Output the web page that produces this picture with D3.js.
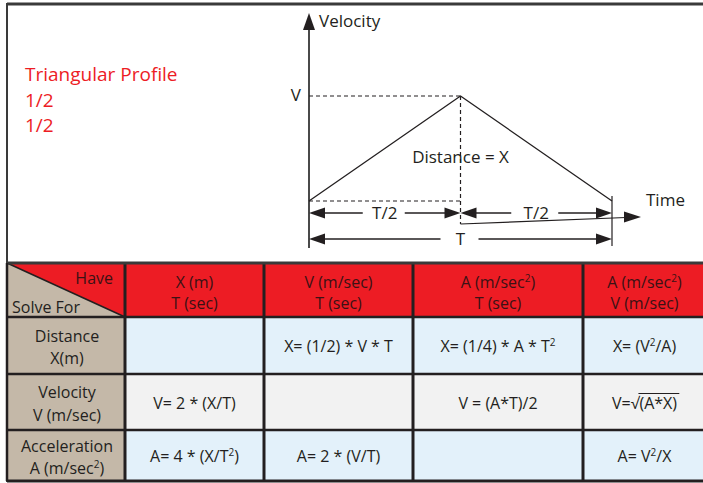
<!DOCTYPE html>
<html><head><meta charset="utf-8">
<script src="https://cdn.jsdelivr.net/npm/d3@7"></script>
<style>
html,body{margin:0;padding:0;background:#fff;}
svg{display:block;font-family:"Open Sans",sans-serif;}
</style></head>
<body>
<svg id="chart" width="703" height="483"></svg>
<script>
// ---------- data ----------
const titleLines = ["Triangular Profile", "1/2", "1/2"];
const profileTime = [0, 0.5, 1];      // fraction of T
const profileVelocity = [0, 1, 0];    // fraction of V
const axisLabels = ["Velocity", "Time", "V", "Distance = X"];
const spanLabels = ["T/2", "T/2", "T"];
const haveTop = ["X (m)", "V (m/sec)", "A (m/sec^2)", "A (m/sec^2)"];
const haveBottom = ["T (sec)", "T (sec)", "T (sec)", "V (m/sec)"];
const solveFor = ["Distance", "Velocity", "Acceleration"];
const solveUnits = ["X(m)", "V (m/sec)", "A (m/sec^2)"];
const formulas = [
  ["", "X= (1/2) * V * T", "X= (1/4) * A * T^2", "X= (V^2/A)"],
  ["V= 2 * (X/T)", "", "V = (A*T)/2", "V=\u221A{(A*X)}"],
  ["A= 4 * (X/T^2)", "A= 2 * (V/T)", "", "A= V^2/X"]
];

// ---------- layout ----------
const svg = d3.select("#chart");
const ink = "#231f20";
const red = "#ed1c24";
const tan = "#c4b8a8";
const rowFill = ["#e3f1fa", "#f2f2f2", "#e3f1fa"];

// frame
svg.append("line").attr("x1",7).attr("x2",703).attr("y1",4).attr("y2",4).attr("stroke","#3a3a3a").attr("stroke-width",3);
svg.append("line").attr("x1",7).attr("x2",7).attr("y1",3).attr("y2",482).attr("stroke","#3a3a3a").attr("stroke-width",2);

// title
svg.append("g").selectAll("text").data(titleLines).join("text")
  .attr("x",25).attr("y",(d,i)=>81+i*25.5)
  .attr("fill",red).attr("font-size",19).text(d=>d);

// ---------- profile chart ----------
const x = d3.scaleLinear().domain([0,1]).range([309,612]);
const y = d3.scaleLinear().domain([0,1]).range([201,96]);
const g = svg.append("g");

function arrowHead(px, py, dir, len=16, hw=5.5){
  let pts;
  if(dir==='r') pts=[[px,py],[px-len,py-hw],[px-len,py+hw]];
  else if(dir==='l') pts=[[px,py],[px+len,py-hw],[px+len,py+hw]];
  else pts=[[px,py],[px-hw,py+len],[px+hw,py+len]];
  g.append("path").attr("d","M"+pts.map(p=>p.join(",")).join("L")+"Z").attr("fill",ink);
}

// axis
g.append("line").attr("x1",x(0)).attr("x2",x(0)).attr("y1",26).attr("y2",248).attr("stroke","#4a4a4a").attr("stroke-width",2);
arrowHead(x(0),13,'u',17,6);

// dashed guides
function dline(x1,y1,x2,y2){
  g.append("line").attr("x1",x1).attr("y1",y1).attr("x2",x2).attr("y2",y2)
   .attr("stroke",ink).attr("stroke-width",1.2).attr("stroke-dasharray","4,3");
}
dline(x(0), y(1), x(0.5), y(1));
dline(x(0), y(0), x(0.5), y(0));
dline(x(0.5), y(1), x(0.5), 224);

// profile line
const line = d3.line().x((d,i)=>x(profileTime[i])).y(d=>y(d));
g.append("path").attr("d", line(profileVelocity)).attr("fill","none").attr("stroke",ink).attr("stroke-width",1.3);

// right end marker
g.append("line").attr("x1",x(1)).attr("x2",x(1)).attr("y1",196).attr("y2",246).attr("stroke",ink).attr("stroke-width",1.2);

// time arrow
g.append("line").attr("x1",x(0.5)).attr("y1",224).attr("x2",626).attr("y2",217.5).attr("stroke",ink).attr("stroke-width",1.2);
arrowHead(641,217,'r',17,5.5);

// span arrows
function span(a, b, yy, label, gapL, gapR){
  const xa=x(a), xb=x(b);
  arrowHead(xa,yy,'l'); arrowHead(xb,yy,'r');
  const cx=(xa+xb)/2;
  g.append("line").attr("x1",xa+10).attr("x2",cx-gapL).attr("y1",yy).attr("y2",yy).attr("stroke",ink).attr("stroke-width",1.3);
  g.append("line").attr("x1",cx+gapR).attr("x2",xb-10).attr("y1",yy).attr("y2",yy).attr("stroke",ink).attr("stroke-width",1.3);
  g.append("text").attr("x",cx).attr("y",yy+6).attr("text-anchor","middle").attr("font-size",17).attr("fill",ink).text(label);
}
span(0,0.5,213,spanLabels[0],22,20);
span(0.5,1,213,spanLabels[1],25,22);
span(0,1,239,spanLabels[2],20,18);

// axis labels
g.append("text").attr("x",319).attr("y",27).attr("font-size",17).attr("fill",ink).text(axisLabels[0]);
g.append("text").attr("x",646).attr("y",206).attr("font-size",17).attr("fill",ink).text(axisLabels[1]);
g.append("text").attr("x",301).attr("y",y(1)+5).attr("text-anchor","end").attr("font-size",17).attr("fill",ink).text(axisLabels[2]);
g.append("text").attr("x",x(0.5)).attr("y",163).attr("text-anchor","middle").attr("font-size",17).attr("fill",ink).text(axisLabels[3]);

// ---------- table ----------
const colEdges = [7,125,264,413,583,712];
const rowEdges = [263,317,374,430,481];
const t = svg.append("g").attr("font-size",16);

function rich(sel, str){
  // supports ^2 superscripts and {..} overline groups
  const parts = str.split(/(\^\w|\{[^}]*\})/).filter(s=>s.length);
  const over = [];
  let pendingDy = 0;
  parts.forEach(p=>{
    let ts;
    if(p[0]==='^'){
      ts = sel.append("tspan").attr("dy",-6 + pendingDy).attr("font-size",10).text(p.slice(1));
      pendingDy = 6;
      return;
    } else if(p[0]==='{'){
      ts = sel.append("tspan").text(p.slice(1,-1));
      over.push(ts);
    } else ts = sel.append("tspan").text(p);
    if(pendingDy){ ts.attr("dy",pendingDy); pendingDy=0; }
  });
  return over;
}

// header background
t.append("rect").attr("x",colEdges[0]).attr("y",rowEdges[0]).attr("width",colEdges[5]-colEdges[0]).attr("height",rowEdges[1]-rowEdges[0]).attr("fill",red);
// corner diagonal triangle (tan)
t.append("path").attr("d",`M${colEdges[0]},${rowEdges[0]}L${colEdges[1]},${rowEdges[1]}L${colEdges[0]},${rowEdges[1]}Z`).attr("fill",tan);
t.append("line").attr("x1",colEdges[0]).attr("y1",rowEdges[0]).attr("x2",colEdges[1]).attr("y2",rowEdges[1]).attr("stroke",ink).attr("stroke-width",1.5);
// first column body
t.append("rect").attr("x",colEdges[0]).attr("y",rowEdges[1]).attr("width",colEdges[1]-colEdges[0]).attr("height",rowEdges[4]-rowEdges[1]).attr("fill",tan);
// body cells
formulas.forEach((row,r)=>{
  row.forEach((f,c)=>{
    t.append("rect").attr("x",colEdges[c+1]).attr("y",rowEdges[r+1]).attr("width",colEdges[c+2]-colEdges[c+1]).attr("height",rowEdges[r+2]-rowEdges[r+1]).attr("fill",rowFill[r]);
  });
});

const hdrInk = "#3b1215";
t.append("text").attr("x",113).attr("y",284).attr("text-anchor","end").attr("fill",hdrInk).text("Have");
t.append("text").attr("x",12).attr("y",313).attr("fill",ink).text("Solve For");

haveTop.forEach((h,c)=>{
  const cx = (colEdges[c+1]+colEdges[c+2])/2 - (c===3?3:0);
  rich(t.append("text").attr("x",cx).attr("y",288).attr("text-anchor","middle").attr("fill",hdrInk), h);
  rich(t.append("text").attr("x",cx).attr("y",309).attr("text-anchor","middle").attr("fill",hdrInk), haveBottom[c]);
});

solveFor.forEach((s,r)=>{
  const cy=(rowEdges[r+1]+rowEdges[r+2])/2;
  const cx=(colEdges[0]+colEdges[1])/2+1;
  t.append("text").attr("x",cx).attr("y",cy-4).attr("text-anchor","middle").attr("fill",ink).text(s);
  rich(t.append("text").attr("x",cx).attr("y",cy+18.5).attr("text-anchor","middle").attr("fill",ink), solveUnits[r]);
});

formulas.forEach((row,r)=>{
  const cy=(rowEdges[r+1]+rowEdges[r+2])/2;
  row.forEach((f,c)=>{
    if(!f) return;
    const cx=(colEdges[c+1]+colEdges[c+2])/2 - (c===3?3:0);
    const txt=t.append("text").attr("x",cx).attr("y",cy+6.5).attr("text-anchor","middle").attr("fill",ink);
    const over=rich(txt,f);
    over.forEach(ts=>{
      const bb=ts.node().getBBox();
      t.append("line").attr("x1",bb.x-1).attr("x2",bb.x+bb.width+2).attr("y1",bb.y+2).attr("y2",bb.y+2).attr("stroke",ink).attr("stroke-width",1);
    });
  });
});

// grid lines
const gridInk="#231f20";
colEdges.slice(1,5).forEach(cx=>{
  t.append("line").attr("x1",cx).attr("x2",cx).attr("y1",rowEdges[0]).attr("y2",rowEdges[4]).attr("stroke",gridInk).attr("stroke-width",3);
});
rowEdges.slice(1).forEach((ry,i)=>{
  t.append("line").attr("x1",colEdges[0]).attr("x2",703).attr("y1",ry).attr("y2",ry).attr("stroke",gridInk).attr("stroke-width",i===3?3:2.5);
});
t.append("line").attr("x1",colEdges[0]).attr("x2",703).attr("y1",rowEdges[0]).attr("y2",rowEdges[0]).attr("stroke","#3a3a3a").attr("stroke-width",3);
t.append("line").attr("x1",colEdges[0]).attr("x2",colEdges[0]).attr("y1",rowEdges[0]).attr("y2",rowEdges[4]).attr("stroke",gridInk).attr("stroke-width",2.5);
</script>
</body></html>
